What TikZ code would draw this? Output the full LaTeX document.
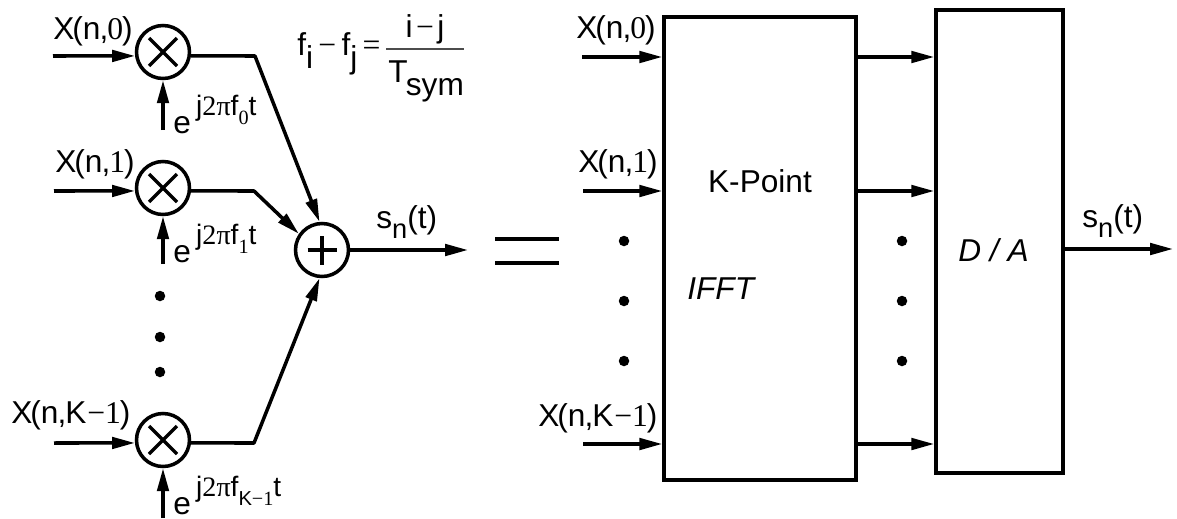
\documentclass[tikz,border=0pt]{standalone}
\usepackage{fontspec}
\setmainfont{Liberation Sans}
\newfontfamily\numfont{Liberation Serif}
\usetikzlibrary{arrows.meta}

\newcommand{\dg}[1]{{\numfont #1}}
\newcommand{\xlabel}[1]{X\kern-1.2pt(n\kern-.5pt,\kern-.6pt#1\kern-.6pt)}
\newcommand{\phaselabel}[1]{e\kern3pt\raisebox{10pt}{\fontsize{16}{16}\selectfont j\dg{2π}f\raisebox{-5pt}{\fontsize{11.5}{11}\selectfont #1}t}}
\newcommand{\sublabel}{s\raisebox{-5.7pt}{\fontsize{15.5}{15}\selectfont n}(t)}

\tikzset{
	wire/.style={line width=2pt, line join=round},
	arrowwire/.style={wire, -{Triangle[length=13pt, width=6.5pt]}},
	mixer/.style={circle, draw, line width=2pt, minimum size=1.06cm, inner sep=0pt,
		path picture={\draw[line width=2pt] (path picture bounding box.center) ++(-0.28cm,-0.28cm) -- ++(0.56cm,0.56cm)
			(path picture bounding box.center) ++(-0.28cm,0.28cm) -- ++(0.56cm,-0.56cm);}},
	adder/.style={circle, draw, line width=2pt, minimum size=1.06cm, inner sep=0pt,
		path picture={\draw[line width=2pt] (path picture bounding box.center) ++(-0.29cm,0) -- ++(0.58cm,0)
			(path picture bounding box.center) ++(0,-0.29cm) -- ++(0,0.58cm);}},
	blockbox/.style={rectangle, draw, line width=2pt, inner sep=0pt},
	vdot/.style={circle, fill, inner sep=0pt, minimum size=0.21cm},
	txt/.style={anchor=base west, inner sep=0pt, font=\fontsize{18}{20}\selectfont},
}

\begin{document}
\begin{tikzpicture}[x=0.02cm, y=-0.02cm]

	\useasboundingbox (0,0) rectangle (1177,518);

	% left side
	\node (m0) [mixer] at (163,52) {};
	\node (m1) [mixer] at (163,188) {};
	\node (m2) [mixer] at (163,440) {};
	\node (sum) [adder] at (322,250) {};

	\coordinate (in0) at (53,56);
	\coordinate (in1) at (54,191);
	\coordinate (in2) at (54,443);
	\coordinate (ph0) at (163,130);
	\coordinate (ph1) at (163,264);
	\coordinate (ph2) at (163,518);
	\coordinate (k0) at (255,56);
	\coordinate (k1) at (254,191);
	\coordinate (k2) at (254,443);
	\coordinate (sumout) at (468,250);

	\node (l0) [txt] at (53,39) {\xlabel{\dg{0}}};
	\node (l1) [txt] at (55,172) {\xlabel{\dg{1}}};
	\node (l2) [txt] at (11,423) {\xlabel{K\kern.5pt\dg{−1}}};
	\node (e0) [txt] at (173,133) {\phaselabel{\dg{0}}};
	\node (e1) [txt] at (173,262) {\phaselabel{\dg{1}}};
	\node (e2) [txt] at (173,514) {\phaselabel{K\dg{−1}}};
	\node (s0) [txt] at (376,228) {\sublabel};

	\node (d0) [vdot] at (160,296) {};
	\node (d1) [vdot] at (160,337) {};
	\node (d2) [vdot] at (160,372) {};

	\path[arrowwire]
	(in0) edge (m0.188)
	(in1) edge (m1.186)
	(in2) edge (m2.186)
	(ph0) edge (m0.south)
	(ph1) edge (m1.south)
	(ph2) edge (m2.south)
	(sum.east) edge (sumout);

	\draw[arrowwire] (m0.352) -- (k0) -- (sum.95);
	\draw[arrowwire] (m1.354) -- (k1) -- (sum.145);
	\draw[arrowwire] (m2.354) -- (k2) -- (sum.265);

	% frequency spacing
	\node (eq) [txt] at (297,55) {f\raisebox{-7.4pt}{i}\kern3pt\dg{−}\kern3pt f\raisebox{-7.4pt}{j}\kern3pt\dg{=}};
	\node (eqi) [txt, anchor=base] at (425,37) {i\kern2pt\dg{−}\kern2pt j};
	\node (eqt) [txt] at (388,82) {T\kern-1pt\raisebox{-7.4pt}{sym}};
	\coordinate (fr0) at (386,49);
	\coordinate (fr1) at (464,49);
	\draw[line width=0.8pt, black!70] (fr0) -- (fr1);

	% equals sign
	\coordinate (eq0) at (495,239);
	\coordinate (eq1) at (559,239);
	\coordinate (eq2) at (495,263);
	\coordinate (eq3) at (559,263);
	\draw[line width=2.3pt] (eq0) -- (eq1);
	\draw[line width=2.3pt] (eq2) -- (eq3);

	% right side
	\node (ifft) [blockbox, minimum width=3.84cm, minimum height=9.26cm] at (760,248.5) {};
	\node (dac) [blockbox, minimum width=2.54cm, minimum height=9.26cm] at (999.5,241.5) {};

	\node (kp) [txt, anchor=base] at (760,192) {K-Point};
	\node (if) [txt, font=\fontsize{18}{20}\selectfont\itshape] at (687,299) {IFFT};
	\node (da) [txt, font=\fontsize{18}{20}\selectfont\itshape] at (958,261) {D / A};

	\coordinate (a0) at (582,57);
	\coordinate (a1) at (583,191);
	\coordinate (a2) at (583,444);
	\coordinate (dacout) at (1173,249);

	\node (r0) [txt] at (576,38) {\xlabel{\dg{0}}};
	\node (r1) [txt] at (578,172) {\xlabel{\dg{1}}};
	\node (r2) [txt] at (538,426) {\xlabel{K\kern.5pt\dg{−1}}};
	\node (s1) [txt] at (1082,227) {\sublabel};

	\node (p0) [vdot] at (624,241) {};
	\node (p1) [vdot] at (624,301) {};
	\node (p2) [vdot] at (624,361) {};
	\node (q0) [vdot] at (902,241) {};
	\node (q1) [vdot] at (902,301) {};
	\node (q2) [vdot] at (902,361) {};

	\path[arrowwire]
	(a0) edge (ifft.west |- a0)
	(a1) edge (ifft.west |- a1)
	(a2) edge (ifft.west |- a2)
	(ifft.east |- a0) edge (dac.west |- a0)
	(ifft.east |- a1) edge (dac.west |- a1)
	(ifft.east |- a2) edge (dac.west |- a2)
	(dac.east |- dacout) edge (dacout);

\end{tikzpicture}
\end{document}
